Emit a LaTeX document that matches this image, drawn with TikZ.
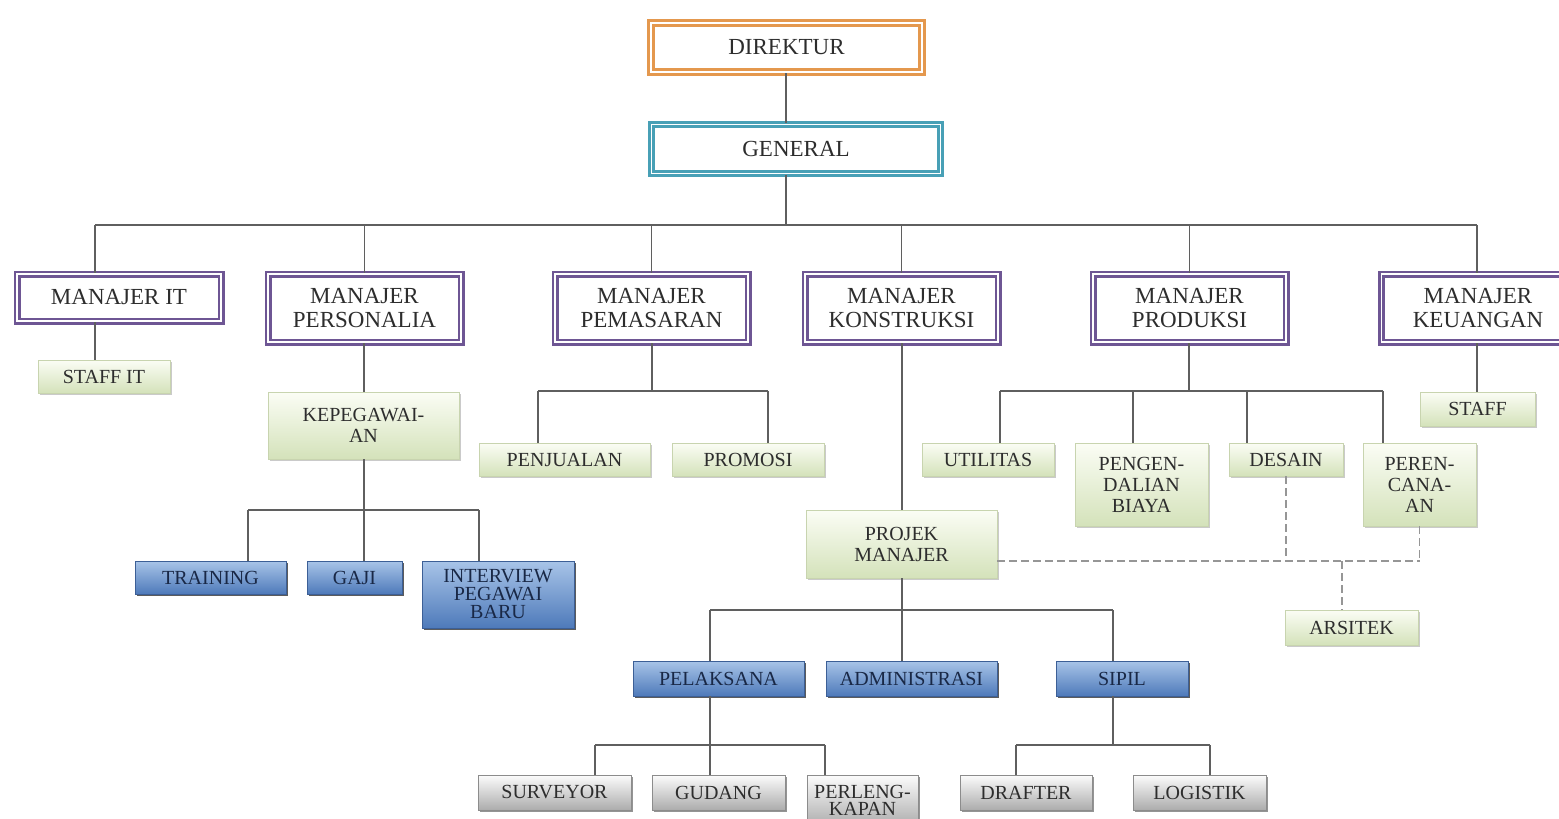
\documentclass[tikz,border=0pt]{standalone}
\usepackage{fontspec}
\setmainfont{Liberation Serif}
\usetikzlibrary{shadows}

\definecolor{lineGray}{RGB}{95,95,95}
\definecolor{dashGray}{RGB}{150,150,150}
\definecolor{dirOrange}{RGB}{228,152,78}
\definecolor{genTeal}{RGB}{72,160,182}
\definecolor{mgrPurple}{RGB}{110,86,148}
\definecolor{grnTop}{RGB}{251,253,245}
\definecolor{grnBot}{RGB}{212,226,186}
\definecolor{grnEdge}{RGB}{200,212,175}
\definecolor{bluTop}{RGB}{168,196,232}
\definecolor{bluBot}{RGB}{78,122,186}
\definecolor{bluEdge}{RGB}{60,95,150}
\definecolor{gryTop}{RGB}{252,252,252}
\definecolor{gryBot}{RGB}{172,172,172}
\definecolor{gryEdge}{RGB}{140,140,140}
\definecolor{textDark}{RGB}{45,45,45}
\definecolor{textNavy}{RGB}{25,40,70}

\tikzset{
  boxbase/.style={rectangle, align=center, inner sep=1pt, text=textDark},
  topbox/.style={boxbase, double=white, double distance=0.9pt, line width=1.4pt,
    fill=white, minimum height=24.5pt, font=\fontsize{11.5}{12.5}\selectfont},
  mgrbox/.style={boxbase, draw=mgrPurple, double=white, double distance=0.9pt,
    line width=1.3pt, fill=white, minimum width=96.5pt, minimum height=34pt,
    font=\fontsize{11.5}{12}\selectfont},
  grnbox/.style={boxbase, draw=grnEdge, line width=0.3pt, top color=grnTop,
    bottom color=grnBot, minimum height=16.5pt,
    drop shadow={shadow xshift=1pt, shadow yshift=-1pt, fill=black!35, opacity=0.6},
    font=\fontsize{10}{10.5}\selectfont},
  blubox/.style={boxbase, draw=bluEdge, line width=0.3pt, top color=bluTop,
    bottom color=bluBot, minimum height=16.5pt, text=textNavy,
    drop shadow={shadow xshift=1pt, shadow yshift=-1pt, fill=black!80, opacity=0.8},
    font=\fontsize{10}{9}\selectfont},
  grybox/.style={boxbase, draw=gryEdge, line width=0.3pt, top color=gryTop,
    bottom color=gryBot, minimum height=17.5pt,
    drop shadow={shadow xshift=1pt, shadow yshift=-1pt, fill=black!60, opacity=0.7},
    font=\fontsize{10}{8.5}\selectfont},
}

\begin{document}
\begin{tikzpicture}[x=0.5pt, y=-0.5pt]
	\useasboundingbox (0,0) rectangle (1559,819);

	\node[topbox, draw=dirOrange, minimum width=135.5pt] (dir) at (786.5, 47.5) {DIREKTUR};
	\node[topbox, draw=genTeal, minimum width=144.5pt] (gen) at (796, 149) {GENERAL};

	\node[mgrbox, minimum width=102pt, minimum height=23.5pt] (mIT) at (119, 297.5) {MANAJER IT};
	\node[mgrbox] (mPS) at (364.5, 308) {MANAJER\\PERSONALIA};
	\node[mgrbox] (mPM) at (651.5, 308) {MANAJER\\PEMASARAN};
	\node[mgrbox] (mKS) at (901.5, 308) {MANAJER\\KONSTRUKSI};
	\node[mgrbox] (mPD) at (1189.5, 308) {MANAJER\\PRODUKSI};
	\node[mgrbox] (mKU) at (1478, 308) {MANAJER\\KEUANGAN};

	\node[grnbox, minimum width=66pt] (sIT) at (104, 376.5) {STAFF IT};
	\node[grnbox, minimum width=95.5pt, minimum height=33.5pt] (kpg) at (363.5, 425.5) {KEPEGAWAI-\\AN};
	\node[grnbox, minimum width=85.5pt] (pjl) at (564.5, 459.5) {PENJUALAN};
	\node[grnbox, minimum width=76pt] (prm) at (748, 459.5) {PROMOSI};
	\node[grnbox, minimum width=66pt] (utl) at (988, 459.5) {UTILITAS};
	\node[grnbox, minimum width=66.5pt, minimum height=41.5pt] (pgb) at (1141.5, 484.5) {PENGEN-\\DALIAN\\BIAYA};
	\node[grnbox, minimum width=57pt] (dsn) at (1286, 459.5) {DESAIN};
	\node[grnbox, minimum width=56.5pt, minimum height=41.5pt] (prc) at (1419.5, 484.5) {PEREN-\\CANA-\\AN};
	\node[grnbox, minimum width=57.5pt, minimum height=17pt] (sKU) at (1477.5, 409) {STAFF};
	\node[grnbox, minimum width=95.5pt, minimum height=34pt] (pjm) at (901.5, 544) {PROJEK\\MANAJER};
	\node[grnbox, minimum width=66.5pt, minimum height=17.5pt] (ars) at (1351.5, 627.5) {ARSITEK};

	\node[blubox, minimum width=75.5pt] (trn) at (210.5, 577.5) {TRAINING};
	\node[blubox, minimum width=47.5pt] (gji) at (354.5, 577.5) {GAJI};
	\node[blubox, minimum width=76pt, minimum height=33.5pt] (itv) at (498, 594.5) {INTERVIEW\\PEGAWAI\\BARU};
	\node[blubox, minimum width=85.5pt, minimum height=17.5pt] (plk) at (718.5, 678.5) {PELAKSANA};
	\node[blubox, minimum width=85.5pt, minimum height=17.5pt] (adm) at (911.5, 678.5) {ADMINISTRASI};
	\node[blubox, minimum width=66pt, minimum height=17.5pt] (spl) at (1122, 678.5) {SIPIL};

	\node[grybox, minimum width=76.5pt] (svy) at (554.5, 792.5) {SURVEYOR};
	\node[grybox, minimum width=66.5pt] (gdg) at (718.5, 792.5) {GUDANG};
	\node[grybox, minimum width=55.5pt, minimum height=25.5pt] (plg) at (862.5, 800.5) {PERLENG-\\KAPAN};
	\node[grybox, minimum width=66pt] (dft) at (1026, 792.5) {DRAFTER};
	\node[grybox, minimum width=66.5pt] (lgs) at (1199.5, 792.5) {LOGISTIK};

	% junction points of the connector lines
	\coordinate (gJ) at (786, 225);
	\coordinate (itJ) at (95, 225);
	\coordinate (kuJ) at (1477, 225);
	\coordinate (kpJ) at (364, 510);
	\coordinate (trJ) at (248, 510);
	\coordinate (ivJ) at (479, 510);
	\coordinate (pmJ) at (652, 391);
	\coordinate (pjJ) at (538, 391);
	\coordinate (prJ) at (768, 391);
	\coordinate (pdJ) at (1189, 391);
	\coordinate (utJ) at (1000, 391);
	\coordinate (pgJ) at (1133, 391);
	\coordinate (dsJ) at (1247, 391);
	\coordinate (pcJ) at (1383, 391);
	\coordinate (ksJ) at (902, 610);
	\coordinate (plJ) at (710, 610);
	\coordinate (spJ) at (1113, 610);
	\coordinate (lkJ) at (710, 745);
	\coordinate (svJ) at (595, 745);
	\coordinate (pgkJ) at (825, 745);
	\coordinate (siJ) at (1113, 745);
	\coordinate (dfJ) at (1016, 745);
	\coordinate (lgJ) at (1210, 745);
	\coordinate (dashJ) at (1420, 561);
	\coordinate (arJ) at (1342, 561);

	\begin{scope}[draw=lineGray, line width=0.75pt]
		\draw (gJ |- dir.south) -- (gJ |- gen.north);
		\draw (gJ |- gen.south) -- (gJ);
		\draw (itJ) -- (kuJ);
		\draw (itJ) -- (itJ |- mIT.north);
		\draw (mPS |- itJ) -- (mPS);
		\draw (mPM |- itJ) -- (mPM);
		\draw (mKS |- itJ) -- (mKS);
		\draw (mPD |- itJ) -- (mPD);
		\draw (kuJ) -- (kuJ |- mKU.north);
		\draw (itJ |- mIT.south) -- (itJ |- sIT.north);
		\draw (kpJ |- mPS.south) -- (kpJ |- kpg.north);
		\draw (kpJ |- kpg.south) -- (kpJ);
		\draw (trJ) -- (ivJ);
		\draw (trJ) -- (trJ |- trn.north);
		\draw (kpJ) -- (kpJ |- gji.north);
		\draw (ivJ) -- (ivJ |- itv.north);
		\draw (pmJ |- mPM.south) -- (pmJ);
		\draw (pjJ) -- (prJ);
		\draw (pjJ) -- (pjJ |- pjl.north);
		\draw (prJ) -- (prJ |- prm.north);
		\draw (pdJ |- mPD.south) -- (pdJ);
		\draw (utJ) -- (pcJ);
		\draw (utJ) -- (utJ |- utl.north);
		\draw (pgJ) -- (pgJ |- pgb.north);
		\draw (dsJ) -- (dsJ |- dsn.north);
		\draw (pcJ) -- (pcJ |- prc.north);
		\draw (kuJ |- mKU.south) -- (kuJ |- sKU.north);
		\draw (ksJ |- mKS.south) -- (ksJ |- pjm.north);
		\draw (ksJ |- pjm.south) -- (ksJ);
		\draw (plJ) -- (spJ);
		\draw (plJ) -- (plJ |- plk.north);
		\draw (ksJ) -- (ksJ |- adm.north);
		\draw (spJ) -- (spJ |- spl.north);
		\draw (lkJ |- plk.south) -- (lkJ);
		\draw (svJ) -- (pgkJ);
		\draw (svJ) -- (svJ |- svy.north);
		\draw (lkJ) -- (lkJ |- gdg.north);
		\draw (pgkJ) -- (pgkJ |- plg.north);
		\draw (siJ |- spl.south) -- (siJ);
		\draw (dfJ) -- (lgJ);
		\draw (dfJ) -- (dfJ |- dft.north);
		\draw (lgJ) -- (lgJ |- lgs.north);
	\end{scope}

	\begin{scope}[draw=dashGray, line width=0.75pt, dash pattern=on 4pt off 2pt]
		\draw (pjm.east |- dashJ) -- (dashJ);
		\draw (dsn.south) -- (dsn.south |- dashJ);
		\draw (prc.south) -- (prc.south |- dashJ);
		\draw (arJ) -- (arJ |- ars.north);
	\end{scope}
\end{tikzpicture}
\end{document}
